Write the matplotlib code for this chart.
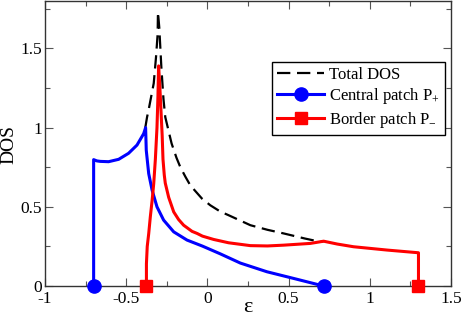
import matplotlib
matplotlib.use("Agg")
import matplotlib.pyplot as plt
from matplotlib.ticker import MultipleLocator

plt.rcParams['font.family'] = ['Liberation Serif', 'DejaVu Serif']
plt.rcParams['mathtext.fontset'] = 'custom'
plt.rcParams['mathtext.rm'] = 'Liberation Serif'
plt.rcParams['axes.unicode_minus'] = False

# Central patch P+
eps_central = [-0.70, -0.70, -0.68, -0.659, -0.608, -0.546, -0.485, -0.433, -0.392,
               -0.38, -0.376, -0.361, -0.34, -0.31, -0.269, -0.207, -0.125,
               -0.03, 0.08, 0.203, 0.367, 0.531, 0.716]
dos_central = [0.0, 0.798, 0.79, 0.787, 0.785, 0.80, 0.838, 0.89, 0.962,
               1.0, 0.857, 0.71, 0.605, 0.50, 0.416, 0.342, 0.29,
               0.252, 0.203, 0.145, 0.09, 0.048, 0.0]

# Border patch P-
eps_border = [-0.375, -0.375, -0.37, -0.361, -0.351, -0.34, -0.33, -0.32, -0.31,
              -0.304, -0.30, -0.292, -0.285, -0.278, -0.273, -0.265, -0.259,
              -0.238, -0.207, -0.177, -0.146, -0.094, -0.063, -0.03, 0.039,
              0.131, 0.265, 0.37, 0.47, 0.634, 0.716, 0.80, 0.90, 1.107, 1.30, 1.30]
dos_border = [0.0, 0.14, 0.25, 0.33, 0.437, 0.54, 0.647, 0.80, 1.0,
              1.2, 1.39, 1.25, 1.1, 0.95, 0.80, 0.70, 0.65,
              0.56, 0.468, 0.42, 0.384, 0.345, 0.332, 0.315, 0.294,
              0.273, 0.255, 0.253, 0.258, 0.269, 0.283, 0.265, 0.248, 0.227, 0.21, 0.0]

# Total DOS (visible part)
eps_total = [-0.382, -0.371, -0.36, -0.345, -0.33, -0.316, -0.306, -0.304, -0.296,
             -0.283, -0.27, -0.259, -0.22, -0.19, -0.166, -0.135, -0.105, -0.07,
             -0.033, 0.018, 0.08, 0.131, 0.265, 0.37, 0.47, 0.60, 0.696, 0.716]
dos_total = [1.0, 1.067, 1.12, 1.2, 1.28, 1.445, 1.59, 1.73, 1.634,
             1.38, 1.18, 1.067, 0.90, 0.81, 0.75, 0.69, 0.636, 0.595,
             0.552, 0.51, 0.47, 0.447, 0.384, 0.355, 0.332, 0.30, 0.279, 0.283]

fig = plt.figure(figsize=(4.63, 3.19), dpi=100)
ax = fig.add_axes([0.097, 0.1034, 0.877, 0.8936])

ax.plot(eps_total, dos_total, color='black', lw=1.6, dashes=(6, 3),
        label='Total DOS')
ax.plot(eps_central, dos_central, color='#0000ff', lw=2.2, marker='o',
        markersize=9.5, markevery=[0, -1], label=r'Central patch P$_{+}$',
        clip_on=False, zorder=3, solid_joinstyle='round')
ax.plot(eps_border, dos_border, color='#ff0000', lw=2.2, marker='s',
        markersize=8.5, markevery=[0, -1], label=r'Border patch P$_{-}$',
        clip_on=False, zorder=3, solid_joinstyle='round')

ax.set_xlim(-1, 1.5)
ax.set_ylim(0, 1.8)
ax.xaxis.set_minor_locator(MultipleLocator(0.25))
ax.yaxis.set_minor_locator(MultipleLocator(0.25))
ax.set_xticks([-1, -0.5, 0, 0.5, 1, 1.5])
ax.set_xticklabels(['-1', '-0.5', '0', '0.5', '1', '1.5'])
ax.set_yticks([0, 0.5, 1, 1.5])
ax.set_yticklabels(['0', '0.5', '1', '1.5'])
ax.tick_params(which='both', direction='in', top=True, right=True,
               labelsize=12.5, color='#555555')
ax.tick_params(axis='y', pad=2)
ax.tick_params(which='major', length=6, width=0.8)
ax.tick_params(which='minor', length=3.5, width=0.8)
for s in ax.spines.values():
    s.set_linewidth(1.0)
    s.set_color('#333333')

ax.set_xlabel('ε', fontsize=16)
ax.xaxis.set_label_coords(0.5, -0.042)
ax.set_ylabel('DOS', fontsize=14)
ax.yaxis.set_label_coords(-0.069, 0.495)

leg = ax.legend(loc='upper right', bbox_to_anchor=(0.985, 0.786),
                borderaxespad=0, fontsize=12, handlelength=2.8,
                labelspacing=0.2, fancybox=False, framealpha=1,
                edgecolor='black', handletextpad=0.3, borderpad=0.3)
leg.get_frame().set_linewidth(1.0)

plt.savefig('out.png', dpi=100)
